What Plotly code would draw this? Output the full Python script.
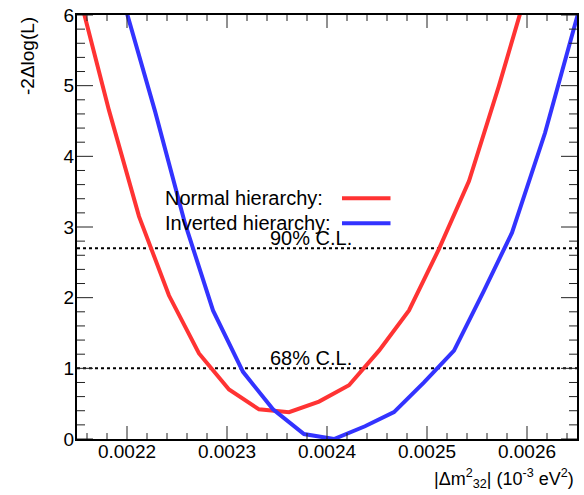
import numpy as np
import plotly.graph_objects as go

# Normal hierarchy (red)
nh_x = [0.002152, 0.002182, 0.002212, 0.002242, 0.002272, 0.002302, 0.002332, 0.002362,
        0.002392, 0.002422, 0.002452, 0.002482, 0.002512, 0.002542, 0.002572, 0.002602]
nh_y = [6.30, 4.65, 3.15, 2.03, 1.21, 0.70, 0.42, 0.38,
        0.53, 0.76, 1.25, 1.82, 2.69, 3.65, 5.00, 6.45]

# Inverted hierarchy (blue)
ih_x = [0.002198, 0.002228, 0.002258, 0.002286, 0.002316, 0.002346, 0.002377, 0.002407,
        0.002438, 0.002467, 0.002497, 0.002527, 0.002557, 0.002585, 0.002618, 0.002648, 0.002678]
ih_y = [6.12, 4.64, 3.05, 1.82, 0.95, 0.42, 0.07, 0.00,
        0.18, 0.38, 0.80, 1.25, 2.10, 2.92, 4.33, 5.86, 7.40]

cl_levels = [2.7, 1.0]
cl_labels = ["90% C.L.", "68% C.L."]
x_range = [0.00215, 0.00265]
y_range = [0, 6]
x_major = [0.0022, 0.0023, 0.0024, 0.0025, 0.0026]
x_ticktext = ["0.0022", "0.0023", "0.0024", "0.0025", "0.0026"]
y_major = [0, 1, 2, 3, 4, 5, 6]
legend_labels = ["Normal hierarchy:", "Inverted hierarchy:"]

RED = "#ff3333"
BLUE = "#3333ff"
FONT = "Liberation Sans, Arial, sans-serif"

# minor tick positions (axis decoration)
x_minor = [float(v) for v in np.round(np.arange(0.00216, 0.002650001, 0.00002), 6)
           if min(abs(v - m) for m in x_major) > 1e-9]
y_minor = [float(v) for v in np.round(np.arange(0.2, 6.0, 0.2), 2)
           if min(abs(v - m) for m in y_major) > 1e-9]

fig = go.Figure()
for lvl in cl_levels:
    fig.add_trace(go.Scatter(x=x_range, y=[lvl, lvl], mode="lines",
                             line=dict(color="black", width=2, dash="3px,3px"),
                             showlegend=False, hoverinfo="skip"))
fig.add_trace(go.Scatter(x=nh_x, y=nh_y, mode="lines", line=dict(color=RED, width=4),
                         showlegend=False))
fig.add_trace(go.Scatter(x=ih_x, y=ih_y, mode="lines", line=dict(color=BLUE, width=4),
                         showlegend=False))

TICK_LINE = dict(color="#222222", width=1)
# tick marks drawn inside the frame, positioned through the axis scales
for yv, sgn in [(y_range[0], 1), (y_range[1], -1)]:
    for vals, ln in [(x_major, 13), (x_minor, 6)]:
        for xv in vals:
            fig.add_shape(type="line", xref="x", yref="y", ysizemode="pixel", yanchor=yv,
                          x0=xv, x1=xv, y0=0, y1=sgn * ln, line=TICK_LINE, layer="above")
for xv, sgn in [(x_range[0], 1), (x_range[1], -1)]:
    for vals, ln in [(y_major, 16), (y_minor, 8)]:
        for yv in vals:
            fig.add_shape(type="line", xref="x", yref="y", xsizemode="pixel", xanchor=xv,
                          y0=yv, y1=yv, x0=0, x1=sgn * ln, line=TICK_LINE, layer="above")

for lvl, lab in zip(cl_levels, cl_labels):
    fig.add_annotation(x=0.002341, y=lvl, text=lab, showarrow=False, xanchor="left",
                       yanchor="middle", yshift=10,
                       font=dict(family=FONT, size=20, color="black"))

# legend (text followed by line sample)
for i, (lab, col) in enumerate(zip(legend_labels, [RED, BLUE])):
    ypos = 0.568 - i * 0.059
    fig.add_annotation(xref="paper", yref="paper", x=0.171, y=ypos, text=lab,
                       showarrow=False, xanchor="left", yanchor="middle",
                       font=dict(family=FONT, size=20, color="black"))
    fig.add_shape(type="line", xref="paper", yref="paper", x0=0.530, x1=0.627,
                  y0=ypos, y1=ypos, line=dict(color=col, width=4))

fig.add_annotation(xref="paper", yref="paper", x=0.998, y=-0.092,
                   text="|Δm<sup>2</sup><sub>32</sub>| (10<sup>-3</sup> eV<sup>2</sup>)",
                   showarrow=False, xanchor="right", yanchor="middle",
                   font=dict(family=FONT, size=18, color="black"))
fig.add_annotation(xref="paper", yref="paper", x=-0.1, y=1.0,
                   text="-2Δlog(L)", textangle=-90,
                   showarrow=False, xanchor="center", yanchor="top",
                   font=dict(family=FONT, size=19, color="black"))

fig.update_layout(
    width=584, height=495, margin=dict(l=77, r=5, t=13, b=56),
    plot_bgcolor="white", paper_bgcolor="white", showlegend=False,
    xaxis=dict(range=x_range, tickmode="array", tickvals=x_major, ticktext=x_ticktext,
               ticks="", showline=True, linecolor="black", linewidth=2,
               mirror=True, showgrid=False, zeroline=False, ticklabelstandoff=-6,
               tickfont=dict(family=FONT, size=19, color="black")),
    yaxis=dict(range=y_range, tickmode="array", tickvals=y_major,
               ticks="", showline=True, linecolor="black", linewidth=2,
               mirror=True, showgrid=False, zeroline=False, ticklabelstandoff=-3,
               tickfont=dict(family=FONT, size=19, color="black")),
)

fig.write_html("out.html")
